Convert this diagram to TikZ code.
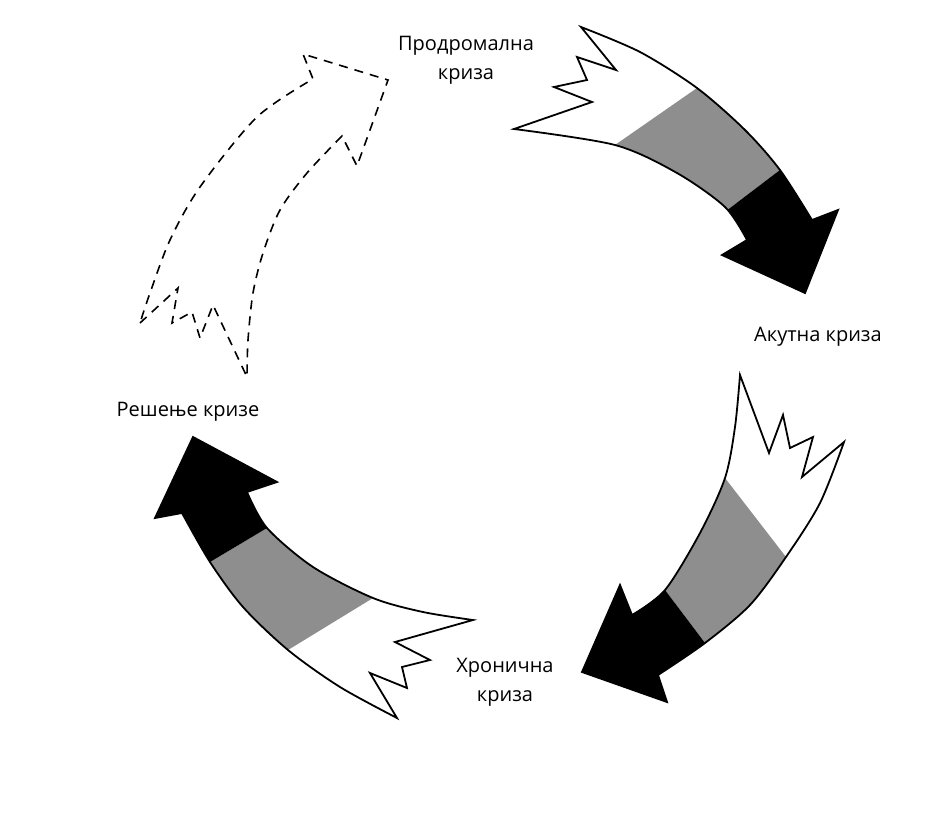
\documentclass[tikz,border=0pt]{standalone}
\usepackage{fontspec}
\setmainfont{Open Sans}
\usetikzlibrary{calc}
\definecolor{agray}{RGB}{142,142,142}
\newcommand\arrowpathA{(581,27) -- (616,70) -- (577,57) -- (587,80) -- (554,87) -- (592,102) -- (514,129)
  -- plot[smooth] coordinates {(514,129) (615,145) (677,173) (725,207) (747,240)}
  -- (722,255) -- (805,293) -- (838,210) -- (812,220)
  -- plot[smooth] coordinates {(812,220) (780,170) (745,130) (697,88) (640,52) (581,27)} -- cycle}
\newcommand\arrowpathB{(844,442) -- (802,477) -- (813,437) -- (790,448) -- (783,415) -- (769,453) -- (740,375)
  -- plot[smooth] coordinates {(740,375) (735,427) (725,478) (700,533) (665,590) (632,615)}
  -- (620,585) -- (582,672) -- (667,702) -- (658,675)
  -- plot[smooth] coordinates {(658,675) (705,643) (750,605) (786,557) (820,503) (844,442)} -- cycle}
\newcommand\arrowpathC{(473,620) -- (395,642) -- (430,660) -- (402,667) -- (407,688) -- (370,673) -- (397,718)
  -- plot[smooth] coordinates {(397,718) (340,687) (288,650) (243,607) (210,562) (182,513)}
  -- (155,518) -- (193,437) -- (277,482) -- (247,492)
  -- plot[smooth] coordinates {(247,492) (267,528) (313,567) (373,598) (423,612) (473,620)} -- cycle}
\newcommand\arrowpathD{(140,323) -- (178,288) -- (172,323) -- (192,312) -- (200,338) -- (213,305) -- (247,377)
  -- plot[smooth] coordinates {(247,377) (248,340) (253,293) (263,253) (280,210) (307,173) (342,136)}
  -- (357,166) -- (388,80) -- (303,54) -- (313,79)
  -- plot[smooth] coordinates {(313,79) (257,117) (200,187) (170,240) (150,293) (140,323)} -- cycle}
\begin{document}
\begin{tikzpicture}[x=1pt,y=-1pt,
  outl/.style={draw=black,line width=1.8pt,line join=miter},
  dashoutl/.style={draw=black,line width=1.6pt,dash pattern=on 9pt off 7pt},
  lbl/.style={font=\fontsize{20}{29}\selectfont,align=center,inner sep=0pt}]
\useasboundingbox (0,0) rectangle (927,817);
\fill[white] (0,0) rectangle (927,817);
% arrow A (top right)
\coordinate (a1wo) at (697,88); \coordinate (a1wi) at (615,145);
\coordinate (a1bo) at (780,170); \coordinate (a1bi) at (730,208);
\fill[white] \arrowpathA;
\begin{scope}
\clip \arrowpathA;
\fill[agray] ($(a1wi)!1.6!(a1wo)$) -- ($(a1wo)!1.6!(a1wi)$) -- ($(a1bo)!1.6!(a1bi)$) -- ($(a1bi)!1.6!(a1bo)$) -- cycle;
\fill[black] ($(a1bi)!1.6!(a1bo)$) -- (838,210) -- (805,293) -- (722,255) -- ($(a1bo)!1.6!(a1bi)$) -- cycle;
\end{scope}
\draw[outl] \arrowpathA;
% arrow B (right)
\coordinate (a2wo) at (786,557); \coordinate (a2wi) at (725,478);
\coordinate (a2bo) at (705,643); \coordinate (a2bi) at (665,590);
\fill[white] \arrowpathB;
\begin{scope}
\clip \arrowpathB;
\fill[agray] ($(a2wi)!1.6!(a2wo)$) -- ($(a2wo)!1.6!(a2wi)$) -- ($(a2bo)!1.6!(a2bi)$) -- ($(a2bi)!1.6!(a2bo)$) -- cycle;
\fill[black] ($(a2bi)!1.6!(a2bo)$) -- (667,702) -- (582,672) -- (620,585) -- ($(a2bo)!1.6!(a2bi)$) -- cycle;
\end{scope}
\draw[outl] \arrowpathB;
% arrow C (bottom left)
\coordinate (a3wo) at (288,650); \coordinate (a3wi) at (373,598);
\coordinate (a3bo) at (210,562); \coordinate (a3bi) at (267,528);
\fill[white] \arrowpathC;
\begin{scope}
\clip \arrowpathC;
\fill[agray] ($(a3wi)!1.6!(a3wo)$) -- ($(a3wo)!1.6!(a3wi)$) -- ($(a3bo)!1.6!(a3bi)$) -- ($(a3bi)!1.6!(a3bo)$) -- cycle;
\fill[black] ($(a3bi)!1.6!(a3bo)$) -- (155,518) -- (193,437) -- (277,482) -- ($(a3bo)!1.6!(a3bi)$) -- cycle;
\end{scope}
\draw[outl] \arrowpathC;
% arrow D (top left, dashed)
\draw[dashoutl] \arrowpathD;
% labels
\node[lbl] (tprod) at (466,60) {Продромална\\криза};
\node[lbl] (takut) at (818,337) {Акутна криза};
\node[lbl] (thron) at (505,682) {Хронична\\криза};
\node[lbl] (tres) at (188,412) {Решење кризе};
\end{tikzpicture}
\end{document}
